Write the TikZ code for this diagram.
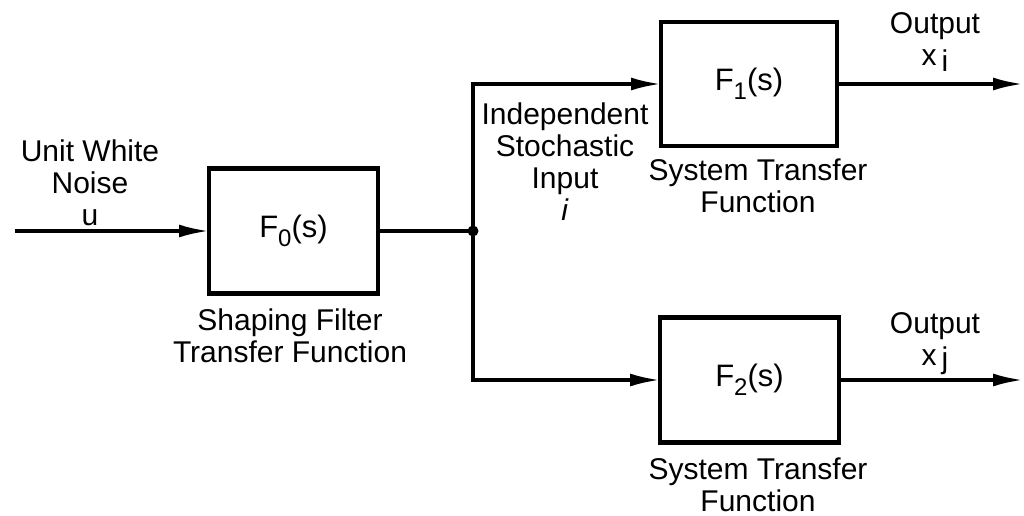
\documentclass[tikz,border=0pt]{standalone}
\usepackage{fontspec}
\setmainfont{Liberation Sans}
\usetikzlibrary{arrows.meta}
\begin{document}
\begin{tikzpicture}[x=1pt,y=-1pt,
  blk/.style={draw,line width=4.2pt,inner sep=0pt,outer sep=0pt,font=\fontsize{31}{36}\selectfont},
  wire/.style={line width=3.4pt},
  arr/.style={wire,-{Latex[length=30pt,width=13pt]}},
  lbl/.style={align=center,inner sep=0pt,font=\fontsize{30}{32}\selectfont}]
\useasboundingbox (0,0) rectangle (1024,516);
\node[blk,minimum width=169pt,minimum height=125pt] (f0) at (293.5,231) {F\raisebox{-9pt}{\fontsize{24}{24}\selectfont 0}(s)};
\node[blk,minimum width=176pt,minimum height=124pt] (f1) at (749,84) {F\raisebox{-9pt}{\fontsize{24}{24}\selectfont 1}(s)};
\node[blk,minimum width=179pt,minimum height=125pt] (f2) at (749.5,380) {F\raisebox{-9pt}{\fontsize{24}{24}\selectfont 2}(s)};
\node[circle,fill,inner sep=0pt,minimum size=11pt] (j) at (473,231) {};
\coordinate (in) at (15,231);
\coordinate (o1) at (1023,84);
\coordinate (o2) at (1023,380);
\draw[arr] (in) -- (f0);
\draw[wire] (f0) -- (j.center);
\draw[arr] (j.center) |- (f1);
\draw[arr] (j.center) |- (f2);
\draw[arr] (f1) -- (o1);
\draw[arr] (f2) -- (o2);
\node[lbl] (lu) at (90,183) {Unit White\\Noise\\u};
\node[lbl] (lsf) at (290,336) {Shaping Filter\\Transfer Function};
\node[lbl] (lin) at (565,162) {Independent\\Stochastic\\Input\\\textit{i}};
\node[lbl] (ls1) at (758,186) {System Transfer\\Function};
\node[lbl] (ls2) at (758,485) {System Transfer\\Function};
\node[lbl] (lo1) at (935,42) {Output\\x\,\raisebox{-6pt}{i}};
\node[lbl] (lo2) at (935,344) {Output\\x\,\raisebox{-3pt}{j}};
\end{tikzpicture}
\end{document}
